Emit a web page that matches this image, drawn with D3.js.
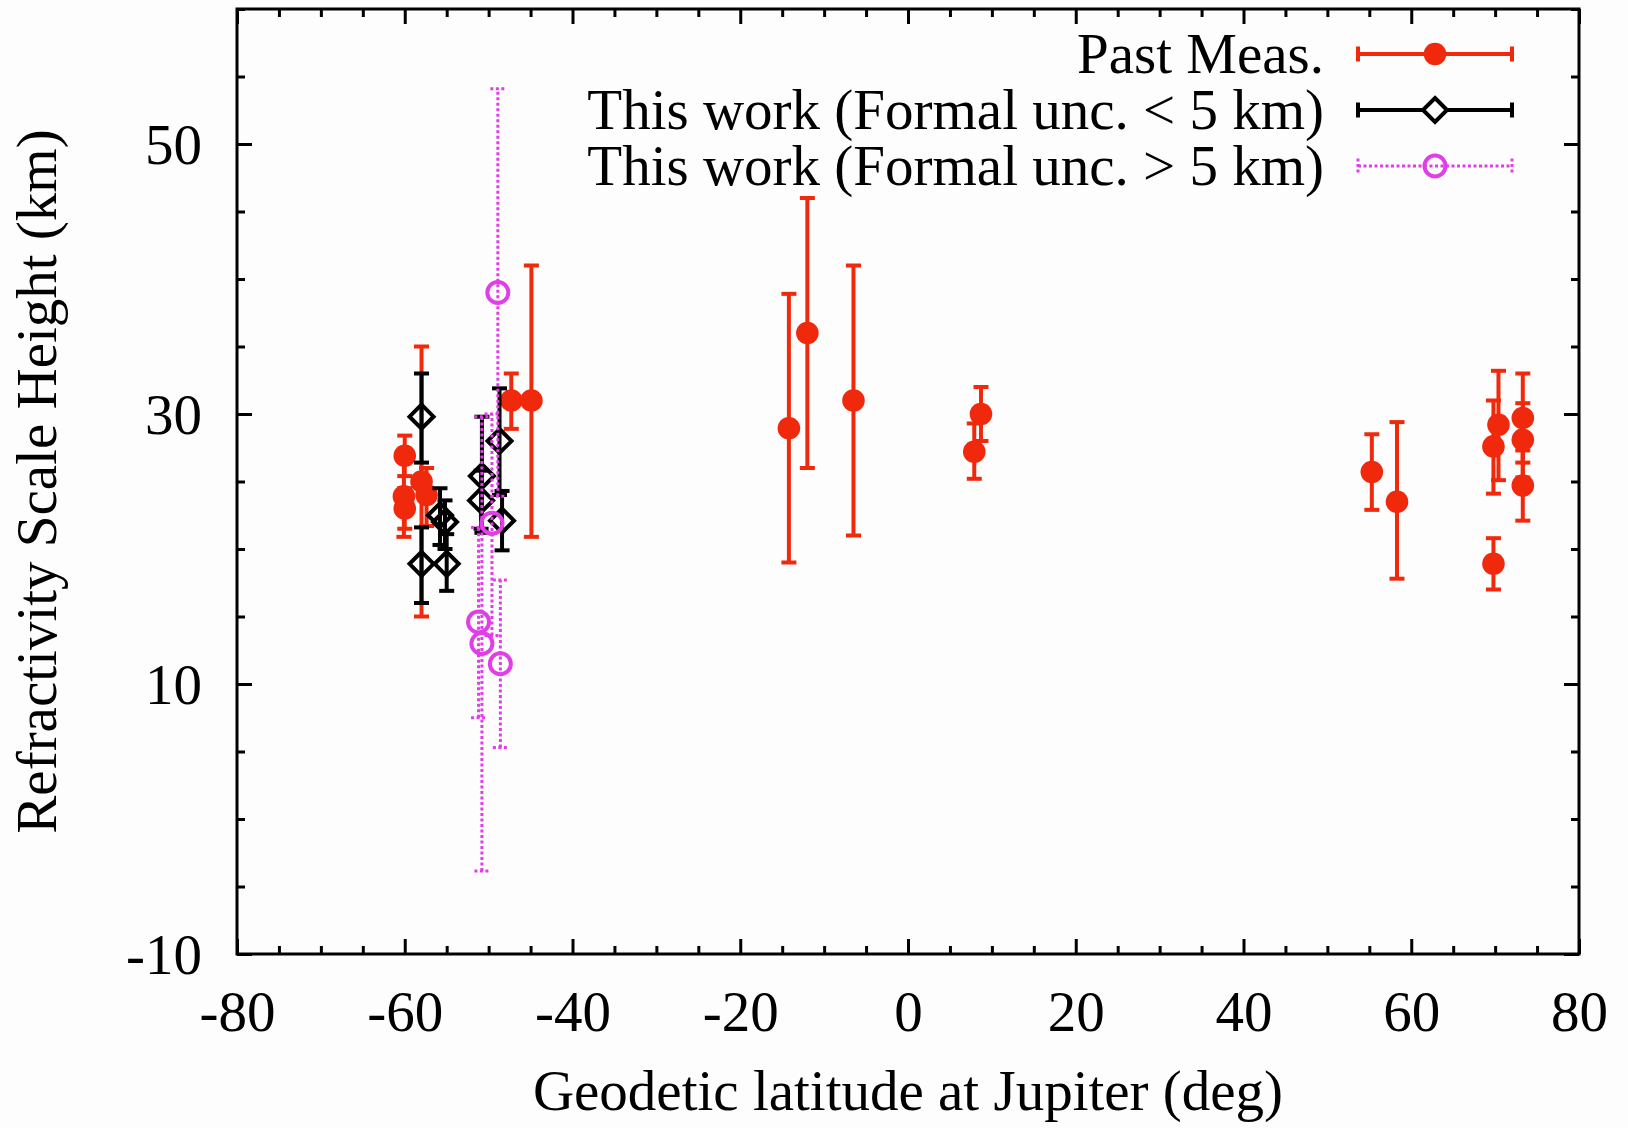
<!DOCTYPE html>
<html>
<head>
<meta charset="utf-8">
<script src="https://cdn.jsdelivr.net/npm/d3@7"></script>
<style>
  html, body { margin: 0; padding: 0; background: #fdfdfd; }
  svg { display: block; }
  text { font-family: "Liberation Serif", "Times New Roman", serif; fill: #000; }
</style>
</head>
<body>
<div id="chart"></div>
<script>
const width = 1628;
const height = 1128;

// Past measurements (red filled circles)
const pastLat = [-60.0, -60.1, -60.0, -58.0, -57.4, -47.3, -44.9, -14.2, -12.0, -6.5, 7.9, 8.7, 55.3, 58.3, 69.8, 70.4, 69.8, 73.3, 73.3, 73.3];
const pastH   = [26.9, 23.9, 23.0, 25.0, 24.0, 31.0, 31.0, 28.95, 36.0, 31.0, 27.2, 30.0, 25.7, 23.5, 27.6, 29.2, 18.9, 29.7, 28.1, 24.7];
const pastLo  = [25.4, 20.9, 21.5, 15.0, 21.7, 28.9, 20.9, 19.0, 26.0, 21.0, 25.2, 28.0, 22.9, 17.8, 24.1, 25.1, 17.0, 26.4, 25.3, 22.1];
const pastHi  = [28.4, 26.9, 24.5, 35.0, 26.0, 33.0, 41.0, 38.9, 46.0, 41.0, 29.3, 32.0, 28.5, 29.4, 31.0, 33.2, 20.8, 33.0, 30.8, 27.3];

// This work, formal unc. < 5 km (black open diamonds)
const goodLat = [-58.0, -58.0, -55.8, -55.2, -55.0, -50.8, -50.9, -48.7, -48.4];
const goodH   = [29.8, 18.9, 22.5, 22.0, 18.9, 25.4, 23.6, 28.0, 22.1];
const goodLo  = [26.4, 16.0, 20.3, 20.0, 16.9, 21.2, 21.5, 24.0, 19.9];
const goodHi  = [33.0, 21.6, 24.5, 23.6, 21.1, 29.8, 25.8, 31.9, 24.3];

// This work, formal unc. > 5 km (magenta open circles)
const weakLat = [-48.9, -49.6, -51.2, -50.8, -48.6];
const weakH   = [39.0, 21.9, 14.6, 13.0, 11.5];
const weakLo  = [23.9, 13.6, 7.5, -3.85, 5.3];
const weakHi  = [54.1, 30.0, 21.6, 29.8, 17.7];

const xMajor = [-80, -60, -40, -20, 0, 20, 40, 60, 80];
const yMajor = [-10, 10, 30, 50];

const legendLabels = ["Past Meas.", "This work (Formal unc. < 5 km)", "This work (Formal unc. > 5 km)"];

const red = "#f0280c";
const magenta = "#e03ee6";

const plotLeft = 237, plotRight = 1579, plotTop = 9, plotBottom = 954;
const fontSize = 57;

const x = d3.scaleLinear().domain([-80, 80]).range([plotLeft, plotRight]);
const y = d3.scaleLinear().domain([-10, 60]).range([plotBottom, plotTop]);

const xMinor = d3.range(-80, 80.1, 5).filter(v => !xMajor.includes(v));
const yMinor = d3.range(-10, 60.1, 5).filter(v => !yMajor.includes(v));

const svg = d3.select("#chart").append("svg")
    .attr("width", width)
    .attr("height", height);

svg.append("rect").attr("width", width).attr("height", height).attr("fill", "#fdfdfd");

function styleAxis(g) {
    g.select(".domain").remove();
    g.selectAll("line").attr("stroke", "#000").attr("stroke-width", 3);
}

// ticks: gnuplot style, inward and mirrored
svg.append("g").attr("transform", `translate(0,${plotBottom})`)
    .call(d3.axisBottom(x).tickValues(xMajor).tickSize(-15).tickFormat(d => d))
    .call(styleAxis)
    .call(g => g.selectAll("text").attr("y", 77).attr("dy", null)
        .attr("font-size", fontSize).attr("font-family", "Liberation Serif"));
svg.append("g").attr("transform", `translate(0,${plotBottom})`)
    .call(d3.axisBottom(x).tickValues(xMinor).tickSize(-8).tickFormat(""))
    .call(styleAxis);
svg.append("g").attr("transform", `translate(0,${plotTop})`)
    .call(d3.axisTop(x).tickValues(xMajor).tickSize(-15).tickFormat(""))
    .call(styleAxis);
svg.append("g").attr("transform", `translate(0,${plotTop})`)
    .call(d3.axisTop(x).tickValues(xMinor).tickSize(-8).tickFormat(""))
    .call(styleAxis);

svg.append("g").attr("transform", `translate(${plotLeft},0)`)
    .call(d3.axisLeft(y).tickValues(yMajor).tickSize(-15).tickPadding(35).tickFormat(d => d))
    .call(styleAxis)
    .call(g => g.selectAll("text").attr("font-size", fontSize).attr("font-family", "Liberation Serif")
        .attr("dy", "0.34em"));
svg.append("g").attr("transform", `translate(${plotLeft},0)`)
    .call(d3.axisLeft(y).tickValues(yMinor).tickSize(-8).tickFormat(""))
    .call(styleAxis);
svg.append("g").attr("transform", `translate(${plotRight},0)`)
    .call(d3.axisRight(y).tickValues(yMajor).tickSize(-15).tickFormat(""))
    .call(styleAxis);
svg.append("g").attr("transform", `translate(${plotRight},0)`)
    .call(d3.axisRight(y).tickValues(yMinor).tickSize(-8).tickFormat(""))
    .call(styleAxis);

// frame
svg.append("rect")
    .attr("x", plotLeft).attr("y", plotTop)
    .attr("width", plotRight - plotLeft).attr("height", plotBottom - plotTop)
    .attr("fill", "none").attr("stroke", "#000").attr("stroke-width", 3);

// axis titles
svg.append("text")
    .attr("x", (plotLeft + plotRight) / 2).attr("y", 1110)
    .attr("text-anchor", "middle").attr("font-size", fontSize)
    .text("Geodetic latitude at Jupiter (deg)");
svg.append("text")
    .attr("transform", `translate(56,${(plotTop + plotBottom) / 2}) rotate(-90)`)
    .attr("text-anchor", "middle").attr("font-size", fontSize)
    .text("Refractivity Scale Height (km)");

const capHalf = 7.5;

function errorBars(g, lat, lo, hi, color, dash) {
    const idx = d3.range(lat.length);
    const bars = g.append("g")
        .attr("stroke", color).attr("stroke-width", dash ? 3 : 4)
        .attr("stroke-dasharray", dash || null);
    bars.selectAll(".v").data(idx).enter().append("line")
        .attr("x1", i => x(lat[i])).attr("x2", i => x(lat[i]))
        .attr("y1", i => y(lo[i])).attr("y2", i => y(hi[i]));
    bars.selectAll(".lo").data(idx).enter().append("line")
        .attr("x1", i => x(lat[i]) - capHalf).attr("x2", i => x(lat[i]) + capHalf)
        .attr("y1", i => y(lo[i])).attr("y2", i => y(lo[i]));
    bars.selectAll(".hi").data(idx).enter().append("line")
        .attr("x1", i => x(lat[i]) - capHalf).attr("x2", i => x(lat[i]) + capHalf)
        .attr("y1", i => y(hi[i])).attr("y2", i => y(hi[i]));
}

const diamond = "M0,-12L12,0L0,12L-12,0Z";

// past measurements
const gPast = svg.append("g");
errorBars(gPast, pastLat, pastLo, pastHi, red, null);
gPast.selectAll("circle").data(d3.range(pastLat.length)).enter().append("circle")
    .attr("cx", i => x(pastLat[i])).attr("cy", i => y(pastH[i]))
    .attr("r", 11.3).attr("fill", red);

// this work, small uncertainty
const gGood = svg.append("g");
errorBars(gGood, goodLat, goodLo, goodHi, "#000", null);
gGood.selectAll("path").data(d3.range(goodLat.length)).enter().append("path")
    .attr("d", diamond)
    .attr("transform", i => `translate(${x(goodLat[i])},${y(goodH[i])})`)
    .attr("fill", "none").attr("stroke", "#000").attr("stroke-width", 4);

// this work, large uncertainty
const gWeak = svg.append("g");
errorBars(gWeak, weakLat, weakLo, weakHi, magenta, "3,2.5");
gWeak.selectAll("circle").data(d3.range(weakLat.length)).enter().append("circle")
    .attr("cx", i => x(weakLat[i])).attr("cy", i => y(weakH[i]))
    .attr("r", 10.5).attr("fill", "none").attr("stroke", magenta).attr("stroke-width", 4);

// legend
const legendRowY = [54, 110, 166];
const lx1 = 1358, lx2 = 1512, lxm = 1435;
const legend = svg.append("g");
legendLabels.forEach((label, i) => {
    const ly = legendRowY[i];
    legend.append("text")
        .attr("x", 1324).attr("y", ly + 19)
        .attr("text-anchor", "end").attr("font-size", fontSize)
        .text(label);
    const color = [red, "#000", magenta][i];
    const dash = i === 2 ? "3,2.5" : null;
    const row = legend.append("g").attr("stroke", color)
        .attr("stroke-width", i === 2 ? 3 : 4).attr("stroke-dasharray", dash);
    row.append("line").attr("x1", lx1).attr("x2", lx2).attr("y1", ly).attr("y2", ly);
    row.append("line").attr("x1", lx1).attr("x2", lx1).attr("y1", ly - capHalf).attr("y2", ly + capHalf);
    row.append("line").attr("x1", lx2).attr("x2", lx2).attr("y1", ly - capHalf).attr("y2", ly + capHalf);
    if (i === 0) {
        legend.append("circle").attr("cx", lxm).attr("cy", ly).attr("r", 11.3).attr("fill", red);
    } else if (i === 1) {
        legend.append("path").attr("d", diamond).attr("transform", `translate(${lxm},${ly})`)
            .attr("fill", "#fdfdfd").attr("stroke", "#000").attr("stroke-width", 4);
    } else {
        legend.append("circle").attr("cx", lxm).attr("cy", ly).attr("r", 10.5)
            .attr("fill", "none").attr("stroke", magenta).attr("stroke-width", 4);
    }
});
</script>
</body>
</html>
